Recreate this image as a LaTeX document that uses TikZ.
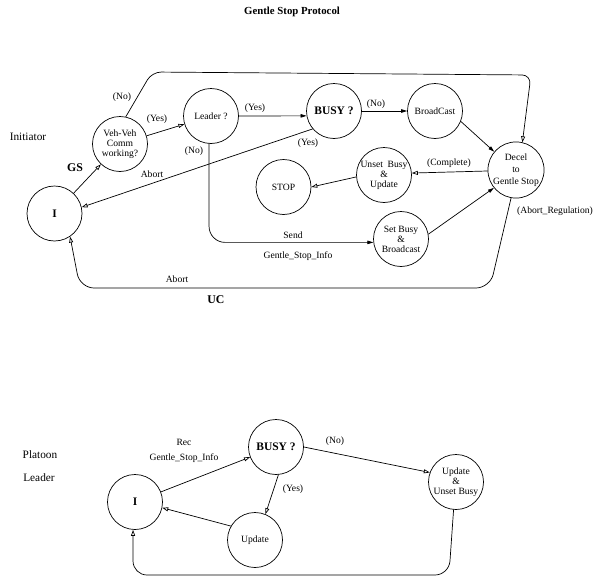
\documentclass[tikz,border=0pt]{standalone}
\usepackage{fontspec}
\setmainfont{Liberation Serif}
\usetikzlibrary{arrows.meta}
\begin{document}
\begin{tikzpicture}[line join=round, line cap=round, x=1pt, y=-1pt, line width=.7pt]
	\tikzset{st/.style={draw,circle,minimum size=55pt,inner sep=0pt,align=center,font=\fontsize{9.6}{10}\selectfont},
		lab/.style={font=\fontsize{9.6}{11}\selectfont,inner sep=0pt},
		side/.style={font=\fontsize{11.3}{13}\selectfont,inner sep=0pt},
		big/.style={font=\fontsize{11.8}{13}\selectfont\bfseries,inner sep=0pt},
		op/.style={-{Triangle[open,length=6pt,width=4pt]}},
		fl/.style={-{Triangle[length=6pt,width=3.5pt]}}}
	\useasboundingbox (0,0) rectangle (595,581);
	\node[font=\fontsize{10.8}{12}\selectfont\bfseries] (title) at (292,12) {Gentle Stop Protocol};
	% Initiator
	\node[side] (init) at (28,137) {Initiator};
	\node[st] (ii) at (54.5,213.5) {\fontsize{11.5}{13}\selectfont\bfseries I};
	\node[st] (veh) at (120,144) {Veh-Veh\\Comm\\working?};
	\node[st] (lead) at (211,116) {Leader ?};
	\node[st] (busy) at (334,111) {\fontsize{11.5}{13}\selectfont\bfseries BUSY ?};
	\node[st] (broad) at (435,111) {BroadCast};
	\node[st,font=\fontsize{9.6}{12}\selectfont] (dec) at (516,170) {Decel\\to\\Gentle Stop};
	\node[st] (unset) at (384,175) {Unset~~Busy\\\&\\Update};
	\node[st] (stop) at (283.5,187) {STOP};
	\node[st] (sb) at (401,239) {Set Busy\\\&\\Broadcast};
	\draw[op] (ii) -- (veh);
	\draw[op] (veh) -- (lead);
	\draw[op,rounded corners=9pt] (veh.78) -- (152,72) -- (531,75) -- (dec.77);
	\draw[fl] (lead.0) -- (busy.190);
	\draw[fl] (busy.0) -- (broad.180);
	\draw[op] (busy.220) -- (ii.13);
	\draw[fl,rounded corners=16pt] (lead.266) |- (sb.187);
	\draw[fl] (broad.338) -- (dec.140);
	\draw[op] (dec.182) -- (unset.4);
	\draw[op] (unset.184) -- (stop.0);
	\draw[fl] (sb.10) -- (dec.219);
	\draw[op,rounded corners=14pt] (dec.260) -- (490,288) -- (80,288) -- (ii.304);
	\node[big] (gs) at (75,168) {GS};
	\node[big] (uc) at (216,300) {UC};
	\node[lab] (lno1) at (122,97) {(No)};
	\node[lab] (lyes1) at (157,119) {(Yes)};
	\node[lab] (lyes2) at (255,108) {(Yes)};
	\node[lab] (lno2) at (194,151) {(No)};
	\node[lab] (lab1) at (152,174) {Abort};
	\node[lab] (lyes3) at (308,143) {(Yes)};
	\node[lab] (lno3) at (376,104) {(No)};
	\node[lab] (lcomp) at (449,163) {(Complete)};
	\node[lab] (lreg) at (555,211) {(Abort\_Regulation)};
	\node[lab] (lsend) at (293,235) {Send};
	\node[lab] (linfo) at (298,256) {Gentle\_Stop\_Info};
	\node[lab] (lab2) at (177,279) {Abort};
	% Platoon leader
	\node[side] (plat) at (40,455) {Platoon};
	\node[side] (pl) at (39,478) {Leader};
	\node[st] (pi) at (135,502) {\fontsize{11.5}{13}\selectfont\bfseries I};
	\node[st] (pb) at (276,447) {\fontsize{11.5}{13}\selectfont\bfseries BUSY ?};
	\node[st] (puu) at (456,482) {Update\\\&\\Unset Busy};
	\node[st] (pu) at (255,540) {Update};
	\draw[op] (pi) -- (pb);
	\draw[op] (pb.0) -- (puu.160);
	\draw[op] (pb.275) -- (pu.68);
	\draw[op] (pu.150) -- (pi.348);
	\draw[op,rounded corners=14pt] (puu.265) -- (449,575) -- (133,575) -- (pi.266);
	\node[lab] (lrec) at (184,442) {Rec};
	\node[lab] (lrinfo) at (184,458) {Gentle\_Stop\_Info};
	\node[lab] (lno4) at (335,441) {(No)};
	\node[lab] (lyes4) at (293,489) {(Yes)};
\end{tikzpicture}
\end{document}
